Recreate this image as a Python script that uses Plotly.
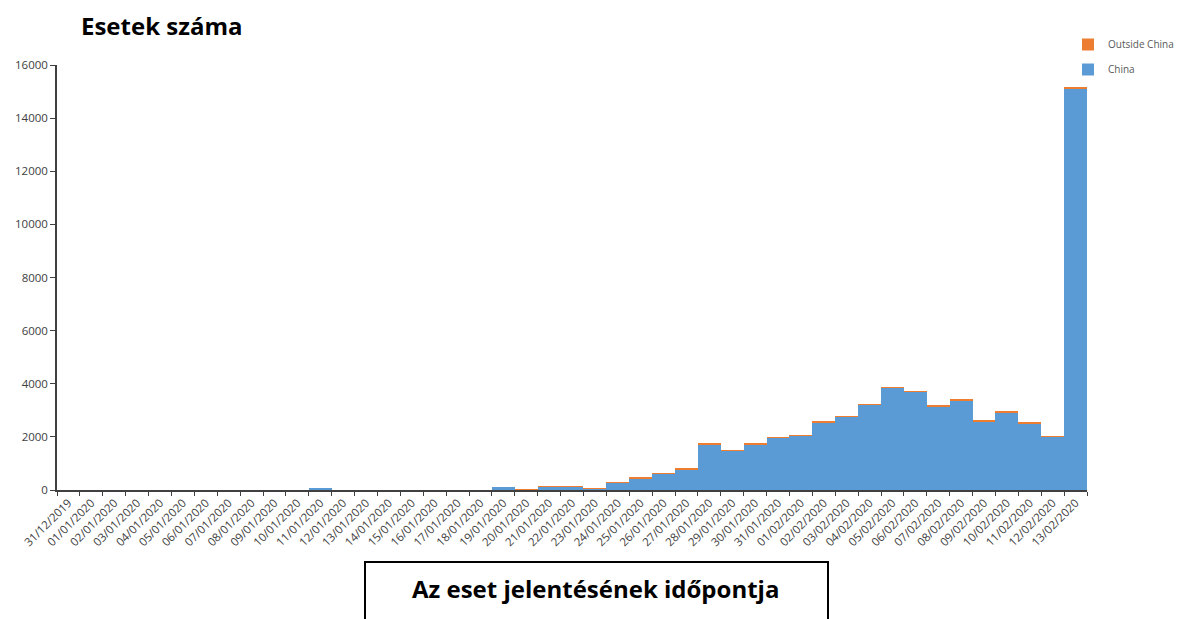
import plotly.graph_objects as go

dates = ["31/12/2019"] + [f"{d:02d}/01/2020" for d in range(1, 32)] + [f"{d:02d}/02/2020" for d in range(1, 14)]

china = [0, 0, 0, 0, 0, 0, 0, 0, 0, 0, 0, 41, 0, 0, 0, 0, 0, 0, 0, 100,
         0, 130, 130, 60, 265, 440, 620, 780, 1730, 1480, 1730, 1960,
         2055, 2555, 2770, 3210, 3850, 3700, 3130, 3385, 2595, 2935, 2500, 2010, 15130]
outside = [0, 0, 0, 0, 0, 0, 0, 0, 0, 0, 0, 0, 0, 0, 0, 0, 0, 0, 0, 0,
           20, 10, 10, 4, 10, 12, 12, 12, 15, 12, 15, 12,
           12, 14, 14, 14, 18, 14, 38, 14, 14, 14, 42, 12, 14]

y_ticks = [0, 2000, 4000, 6000, 8000, 10000, 12000, 14000, 16000]

# page offset of the plot div (body margin) is ~8px; compensate
OFF = 8
L, T, R, B = 57 - OFF, 65 - OFF, 102, 129
W, H = 1189 - OFF, 619 - OFF

fig = go.Figure()
fig.add_trace(go.Bar(x=dates, y=china, name="China", legendgroup="c", legendrank=2,
                     marker=dict(color="#5B9BD5", line=dict(width=0))))
fig.add_trace(go.Bar(x=dates, y=outside, name="Outside China", legendgroup="o", legendrank=1,
                     marker=dict(color="#ED7D31", line=dict(width=0))))

fig.update_layout(
    width=W, height=H,
    barmode="stack", bargap=0,
    plot_bgcolor="white", paper_bgcolor="white",
    margin=dict(l=L, r=R, t=T, b=B, autoexpand=False),
    font=dict(family="Open Sans, sans-serif", color="#595959", size=11),
    showlegend=True,
    legend=dict(x=(1068 - 57) / 1030, xanchor="left", y=(490 - 30) / 425, yanchor="top",
                traceorder="grouped", tracegroupgap=6,
                font=dict(size=10, color="#595959"), itemwidth=30,
                bgcolor="rgba(0,0,0,0)"),
    xaxis=dict(type="category", tickangle=-45, tickson="boundaries", ticks="outside",
               ticklen=4, tickcolor="#404040", showline=True, linecolor="#404040", linewidth=1.5,
               tickfont=dict(size=11.5, color="#404040"),
               showgrid=False),
    yaxis=dict(range=[0, 16000], tickvals=y_ticks, tickformat="d", ticks="outside", ticklen=5,
               tickcolor="#404040", showline=True, linecolor="#404040", linewidth=1.5,
               showgrid=False, zeroline=False,
               tickfont=dict(size=11.5, color="#404040")),
    shapes=[dict(type="rect", xref="paper", yref="paper", x0=(365 - 57) / 1030, x1=(828 - 57) / 1030,
                 y0=(490 - 640) / 425, y1=(490 - 562) / 425,
                 line=dict(color="black", width=2), fillcolor="white", layer="above")],
    annotations=[
        dict(text="<b>Esetek száma</b>", xref="paper", yref="paper", x=(161 - 57) / 1030, y=(490 - 26) / 425,
             xanchor="center", yanchor="middle", showarrow=False,
             font=dict(size=24, color="black", family="Open Sans, sans-serif")),
        dict(text="<b>Az eset jelentésének időpontja</b>", xref="paper", yref="paper",
             x=(595 - 57) / 1030, y=(490 - 588) / 425, xanchor="center", yanchor="middle",
             showarrow=False, font=dict(size=24, color="black", family="Open Sans, sans-serif")),
    ],
)

fig.write_html("out.html")
